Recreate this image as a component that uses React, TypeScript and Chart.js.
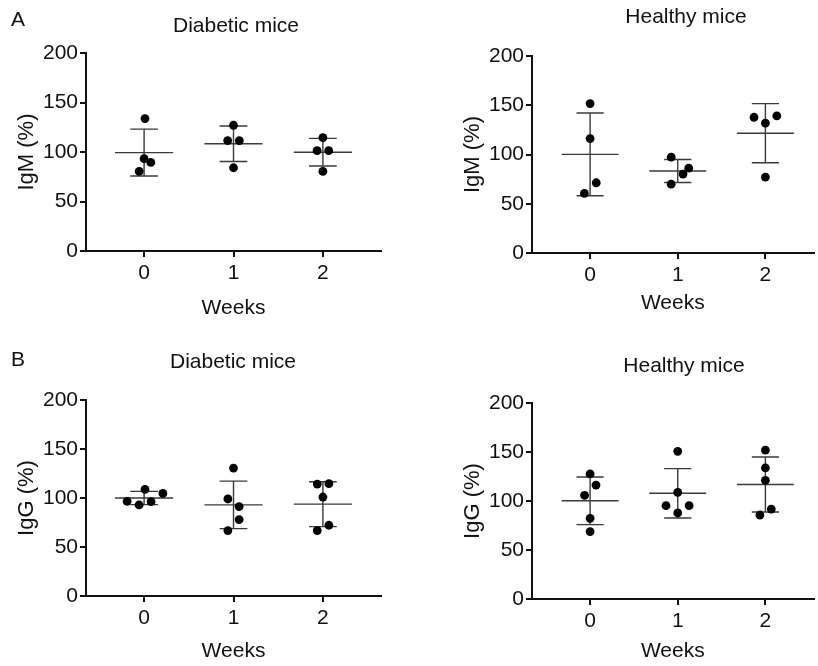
import React, { useEffect, useRef } from "react";
import { Chart, registerables } from "chart.js";

Chart.register(...registerables);

// ---------- shared axis data ----------
const weeks = [0, 1, 2];
const weekLabels = ["0", "1", "2"];
const yTicks = [0, 50, 100, 150, 200];

// ---------- A: IgM, diabetic mice ----------
const igmDiabeticValues = [
  [133.8, 93.2, 89.5, 80.4],
  [127.0, 111.5, 111.5, 84.1],
  [114.5, 101.4, 101.4, 80.4],
];
const igmDiabeticJitter = [
  [0.01, 0.0, 0.075, -0.055],
  [0.0, -0.065, 0.065, 0.0],
  [0.0, -0.065, 0.065, 0.0],
];
const igmDiabeticMean = [99.4, 108.3, 99.8];
const igmDiabeticSD = [23.7, 17.9, 14.0];

// ---------- A: IgM, healthy mice ----------
const igmHealthyValues = [
  [151.7, 116.2, 71.3, 60.5],
  [97.3, 86.1, 80.1, 69.9],
  [137.8, 139.2, 131.8, 77.0],
];
const igmHealthyJitter = [
  [0.0, 0.0, 0.07, -0.065],
  [-0.075, 0.125, 0.06, -0.075],
  [-0.13, 0.13, 0.0, 0.0],
];
const igmHealthyMean = [100.1, 83.2, 121.6];
const igmHealthySD = [42.0, 11.7, 30.0];

// ---------- B: IgG, diabetic mice ----------
const iggDiabeticValues = [
  [108.8, 104.7, 96.6, 92.9, 96.3],
  [130.5, 99.0, 91.2, 78.0, 66.8],
  [114.2, 114.6, 101.0, 72.2, 66.8],
];
const iggDiabeticJitter = [
  [0.01, 0.21, -0.19, -0.056, 0.078],
  [0.0, -0.063, 0.063, 0.063, -0.063],
  [-0.063, 0.067, 0.0, 0.067, -0.063],
];
const iggDiabeticMean = [100.0, 93.0, 93.7];
const iggDiabeticSD = [6.8, 24.25, 22.9];

// ---------- B: IgG, healthy mice ----------
const iggHealthyValues = [
  [127.6, 116.3, 105.8, 82.3, 68.7],
  [150.7, 108.8, 95.2, 95.2, 87.8],
  [152.0, 133.7, 121.1, 91.8, 85.7],
];
const iggHealthyJitter = [
  [0.0, 0.067, -0.063, 0.0, 0.0],
  [0.0, 0.0, -0.134, 0.13, 0.0],
  [0.0, 0.0, 0.0, 0.067, -0.063],
];
const iggHealthyMean = [100.2, 107.85, 116.85];
const iggHealthySD = [24.3, 25.2, 28.05];

const FONT = "'Liberation Sans', Arial, Helvetica, sans-serif";
const INK = "#111111";

type Frame = {
  left: number;
  top: number;
  width: number;
  height: number;
  areaLeft: number;
  areaTop: number;
  areaRight: number;
  areaBottom: number;
  xMin: number;
  xMax: number;
  yTitleX: number;
  xTitleY: number;
};

type PanelProps = {
  frame: Frame;
  values: number[][];
  jitter: number[][];
  means: number[];
  sds: number[];
  yLabel: string;
};

function Panel({ frame, values, jitter, means, sds, yLabel }: PanelProps) {
  const ref = useRef<HTMLCanvasElement | null>(null);

  useEffect(() => {
    if (!ref.current) return;
    const points: { x: number; y: number }[] = [];
    values.forEach((group, gi) => {
      group.forEach((v, pi) => {
        points.push({ x: weeks[gi] + jitter[gi][pi], y: v });
      });
    });

    const meanSdPlugin = {
      id: "meanSd",
      beforeDatasetsDraw(chart: any) {
        const { ctx, scales } = chart;
        const xs = scales.x;
        const ys = scales.y;
        ctx.save();
        ctx.strokeStyle = "#3a3a3a";
        ctx.lineWidth = 1.4;
        means.forEach((m, i) => {
          const w = weeks[i];
          const yMean = ys.getPixelForValue(m);
          const yHi = ys.getPixelForValue(m + sds[i]);
          const yLo = ys.getPixelForValue(m - sds[i]);
          const cx = xs.getPixelForValue(w);
          const mL = xs.getPixelForValue(w - 0.325);
          const mR = xs.getPixelForValue(w + 0.325);
          const cL = xs.getPixelForValue(w - 0.155);
          const cR = xs.getPixelForValue(w + 0.155);
          ctx.beginPath();
          ctx.moveTo(mL, yMean);
          ctx.lineTo(mR, yMean);
          ctx.moveTo(cx, yHi);
          ctx.lineTo(cx, yLo);
          ctx.moveTo(cL, yHi);
          ctx.lineTo(cR, yHi);
          ctx.moveTo(cL, yLo);
          ctx.lineTo(cR, yLo);
          ctx.stroke();
        });
        ctx.restore();
      },
    };

    const tickFont = { family: FONT, size: 21 };
    const xTitleFont = { family: FONT, size: 21 };
    const yTitleFont = { family: FONT, size: 22 };
    const lhX = 21 * 1.2;
    const lhY = 22 * 1.2;

    const chart = new Chart(ref.current, {
      type: "scatter",
      data: {
        datasets: [
          {
            data: points,
            pointRadius: 4.4,
            pointHoverRadius: 4.4,
            backgroundColor: "#000000",
            borderWidth: 0,
          },
        ],
      },
      options: {
        responsive: false,
        maintainAspectRatio: false,
        animation: false,
        events: [],
        layout: {
          padding: {
            left: 0,
            top: frame.areaTop,
            right: frame.width - frame.areaRight,
            bottom: 0,
          },
        },
        plugins: {
          legend: { display: false },
          tooltip: { enabled: false },
          title: { display: false },
        },
        scales: {
          x: {
            type: "linear",
            min: frame.xMin,
            max: frame.xMax,
            afterBuildTicks: (s: any) => {
              s.ticks = weeks.map((v) => ({ value: v }));
            },
            afterFit: (s: any) => {
              s.height = frame.height - frame.areaBottom;
            },
            ticks: {
              font: tickFont,
              color: INK,
              padding: 4,
              maxRotation: 0,
              autoSkip: false,
              callback: (v: any) => weekLabels[weeks.indexOf(Number(v))] ?? "",
            },
            grid: {
              drawOnChartArea: false,
              drawTicks: true,
              tickLength: 6,
              color: INK,
              lineWidth: 2,
            },
            border: { display: true, color: INK, width: 2 },
            title: {
              display: true,
              text: "Weeks",
              font: xTitleFont,
              color: INK,
              padding: { top: 0, bottom: frame.height - frame.xTitleY - lhX / 2 },
            },
          },
          y: {
            type: "linear",
            min: 0,
            max: 200,
            afterBuildTicks: (s: any) => {
              s.ticks = yTicks.map((v) => ({ value: v }));
            },
            afterFit: (s: any) => {
              s.width = frame.areaLeft;
            },
            ticks: {
              font: tickFont,
              color: INK,
              padding: 2,
              autoSkip: false,
            },
            grid: {
              drawOnChartArea: false,
              drawTicks: true,
              tickLength: 6,
              color: INK,
              lineWidth: 2,
            },
            border: { display: true, color: INK, width: 2 },
            title: {
              display: true,
              text: yLabel,
              font: yTitleFont,
              color: INK,
              padding: { top: frame.yTitleX - lhY / 2, bottom: 0 },
            },
          },
        },
      },
      plugins: [meanSdPlugin],
    });
    return () => chart.destroy();
  }, [frame, values, jitter, means, sds, yLabel]);

  return (
    <canvas
      ref={ref}
      width={frame.width}
      height={frame.height}
      style={{
        position: "absolute",
        left: frame.left,
        top: frame.top,
        width: frame.width,
        height: frame.height,
        display: "block",
      }}
    />
  );
}

const frames: Frame[] = [
  { left: 0, top: 0, width: 409, height: 333, areaLeft: 86, areaTop: 53, areaRight: 381, areaBottom: 251, xMin: -0.65, xMax: 2.65, yTitleX: 27, xTitleY: 308 },
  { left: 409, top: 0, width: 409, height: 333, areaLeft: 123, areaTop: 56, areaRight: 409, areaBottom: 253, xMin: -0.663, xMax: 2.55, yTitleX: 64, xTitleY: 303 },
  { left: 0, top: 333, width: 409, height: 333, areaLeft: 86, areaTop: 67, areaRight: 381, areaBottom: 263, xMin: -0.65, xMax: 2.65, yTitleX: 27, xTitleY: 318 },
  { left: 409, top: 333, width: 409, height: 333, areaLeft: 123, areaTop: 70, areaRight: 409, areaBottom: 266, xMin: -0.663, xMax: 2.55, yTitleX: 64, xTitleY: 318 },
];

const labels: { text: string; x: number; y: number; size: number }[] = [
  { text: "A", x: 18, y: 18, size: 21 },
  { text: "Diabetic mice", x: 236, y: 24, size: 21 },
  { text: "Healthy mice", x: 686, y: 15, size: 21 },
  { text: "B", x: 18, y: 358, size: 21 },
  { text: "Diabetic mice", x: 233, y: 360, size: 21 },
  { text: "Healthy mice", x: 684, y: 364, size: 21 },
];

export default function App() {
  return (
    <div
      style={{
        position: "absolute",
        left: 0,
        top: 0,
        width: 818,
        height: 666,
        background: "#ffffff",
        overflow: "hidden",
      }}
    >
      <Panel frame={frames[0]} values={igmDiabeticValues} jitter={igmDiabeticJitter} means={igmDiabeticMean} sds={igmDiabeticSD} yLabel="IgM (%)" />
      <Panel frame={frames[1]} values={igmHealthyValues} jitter={igmHealthyJitter} means={igmHealthyMean} sds={igmHealthySD} yLabel="IgM (%)" />
      <Panel frame={frames[2]} values={iggDiabeticValues} jitter={iggDiabeticJitter} means={iggDiabeticMean} sds={iggDiabeticSD} yLabel="IgG (%)" />
      <Panel frame={frames[3]} values={iggHealthyValues} jitter={iggHealthyJitter} means={iggHealthyMean} sds={iggHealthySD} yLabel="IgG (%)" />
      {labels.map((l, i) => (
        <div
          key={i}
          style={{
            position: "absolute",
            left: l.x,
            top: l.y,
            transform: "translate(-50%, -50%)",
            fontFamily: FONT,
            fontSize: l.size,
            lineHeight: 1,
            color: INK,
            whiteSpace: "nowrap",
          }}
        >
          {l.text}
        </div>
      ))}
    </div>
  );
}
